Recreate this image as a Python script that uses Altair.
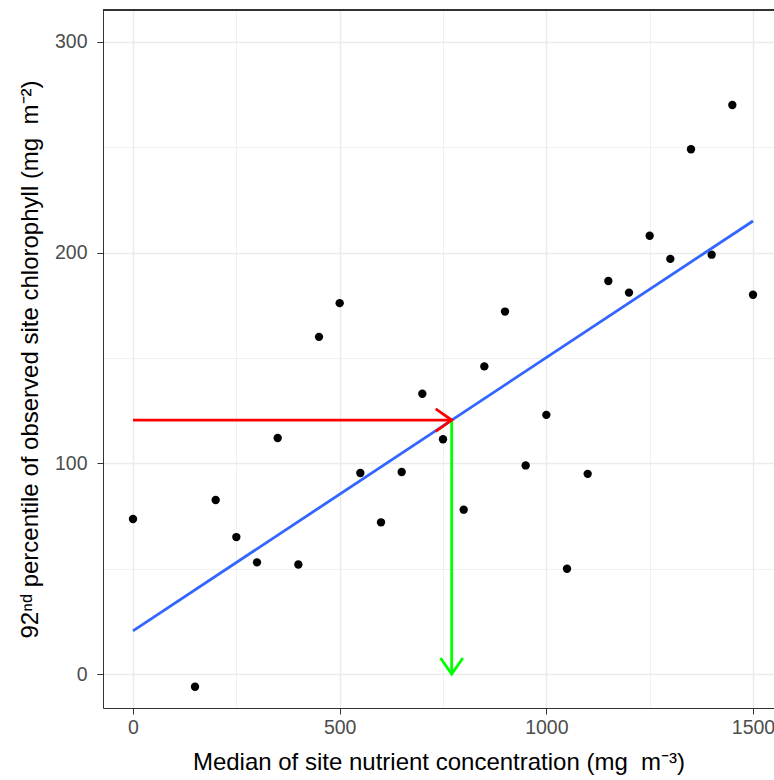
import altair as alt
import pandas as pd

# observed points
nutrient = [0, 150, 200, 250, 300, 350, 400, 450, 500, 550, 600, 650, 700, 750, 800,
            850, 900, 950, 1000, 1050, 1100, 1150, 1200, 1250, 1300, 1350, 1400, 1450, 1500]
chlorophyll = [73.6, -6, 82.6, 65, 53, 112, 52, 160, 176, 95.4, 72, 95.9, 133, 111.4, 78,
               146, 172, 99, 123, 50, 95, 186.5, 181, 208, 197, 249, 199, 270, 180]

# fitted line
fit_x = [0, 1500]
fit_y = [20.5, 215]

# arrows
arrow_x = [0, 771]
arrow_x2 = [771, 771]
arrow_y = [120.5, 120.5]
arrow_y2 = [120.5, 0]
arrow_col = ["#FF0000", "#00FF00"]
head_angle = [0, 90]

x_ticks = [0, 250, 500, 750, 1000, 1250, 1500]
y_ticks = [0, 50, 100, 150, 200, 250, 300]

FONT = "Liberation Sans"

pts = pd.DataFrame({"x": nutrient, "y": chlorophyll})
fit = pd.DataFrame({"x": fit_x, "y": fit_y})
arr = pd.DataFrame({"x": arrow_x, "x2": arrow_x2, "y": arrow_y, "y2": arrow_y2,
                    "col": arrow_col, "angle": head_angle})

xscale = alt.Scale(domain=[-72.6, 1550.8], nice=False, zero=False)
yscale = alt.Scale(domain=[-16.1, 315.1], nice=False, zero=False)

xaxis = alt.Axis(
    values=x_ticks,
    format="d",
    labelExpr="datum.value % 500 === 0 ? datum.label : ''",
    title="Median of site nutrient concentration (mg\u00a0 m⁻³)",
    grid=True,
    gridColor="#EBEBEB",
    gridWidth={"condition": {"test": "datum.value % 500 !== 0", "value": 0.7}, "value": 1.4},
    tickOpacity={"condition": {"test": "datum.value % 500 !== 0", "value": 0}, "value": 1},
    tickColor="#333333", tickSize=6, tickWidth=1,
    domainColor="#333333", domainWidth=1,
    labelFont=FONT, labelFontSize=19.5, labelColor="#4D4D4D", labelPadding=4,
    titleFont=FONT, titleFontSize=24, titleFontWeight="normal", titleColor="#000000",
    titlePadding=14,
)
yaxis = alt.Axis(
    values=y_ticks,
    format="d",
    labelExpr="datum.value % 100 === 0 ? datum.label : ''",
    title="92ⁿᵈ percentile of observed site chlorophyll (mg\u00a0 m⁻²)",
    grid=True,
    gridColor="#EBEBEB",
    gridWidth={"condition": {"test": "datum.value % 100 !== 0", "value": 0.7}, "value": 1.4},
    tickOpacity={"condition": {"test": "datum.value % 100 !== 0", "value": 0}, "value": 1},
    tickColor="#333333", tickSize=6, tickWidth=1,
    domainColor="#333333", domainWidth=1,
    labelFont=FONT, labelFontSize=19.5, labelColor="#4D4D4D", labelPadding=10,
    titleFont=FONT, titleFontSize=24, titleFontWeight="normal", titleColor="#000000",
    titlePadding=12,
)

points = alt.Chart(pts).mark_circle(size=70, color="black", opacity=1).encode(
    x=alt.X("x:Q", scale=xscale, axis=xaxis),
    y=alt.Y("y:Q", scale=yscale, axis=yaxis),
)

line = alt.Chart(fit).mark_line(color="#3366FF", strokeWidth=2.8).encode(
    x=alt.X("x:Q", scale=xscale),
    y=alt.Y("y:Q", scale=yscale),
)

shafts = alt.Chart(arr).mark_rule(strokeWidth=2.8).encode(
    x=alt.X("x:Q", scale=xscale),
    x2="x2:Q",
    y=alt.Y("y:Q", scale=yscale),
    y2="y2:Q",
    color=alt.Color("col:N", scale=None),
)

heads = alt.Chart(arr).mark_point(
    shape="M-1,-0.7L0,0L-1,0.7", size=1024, filled=False, strokeWidth=2.8, opacity=1
).encode(
    x=alt.X("x2:Q", scale=xscale),
    y=alt.Y("y2:Q", scale=yscale),
    color=alt.Color("col:N", scale=None),
    angle=alt.Angle("angle:Q", scale=None),
)

top_border = alt.Chart(pts).mark_rule(color="#333333", strokeWidth=1).encode(
    x=alt.value(0), x2=alt.value(671), y=alt.value(0)
)

chart = alt.layer(points, line, shafts, heads, top_border).properties(
    width=671, height=698,
    autosize=alt.AutoSizeParams(type="none"),
    padding={"left": 103, "top": 10, "right": 0, "bottom": 72},
).configure_view(stroke=None).configure(background="white")

chart.save("out.html", embed_options={"renderer": "svg", "actions": False})
